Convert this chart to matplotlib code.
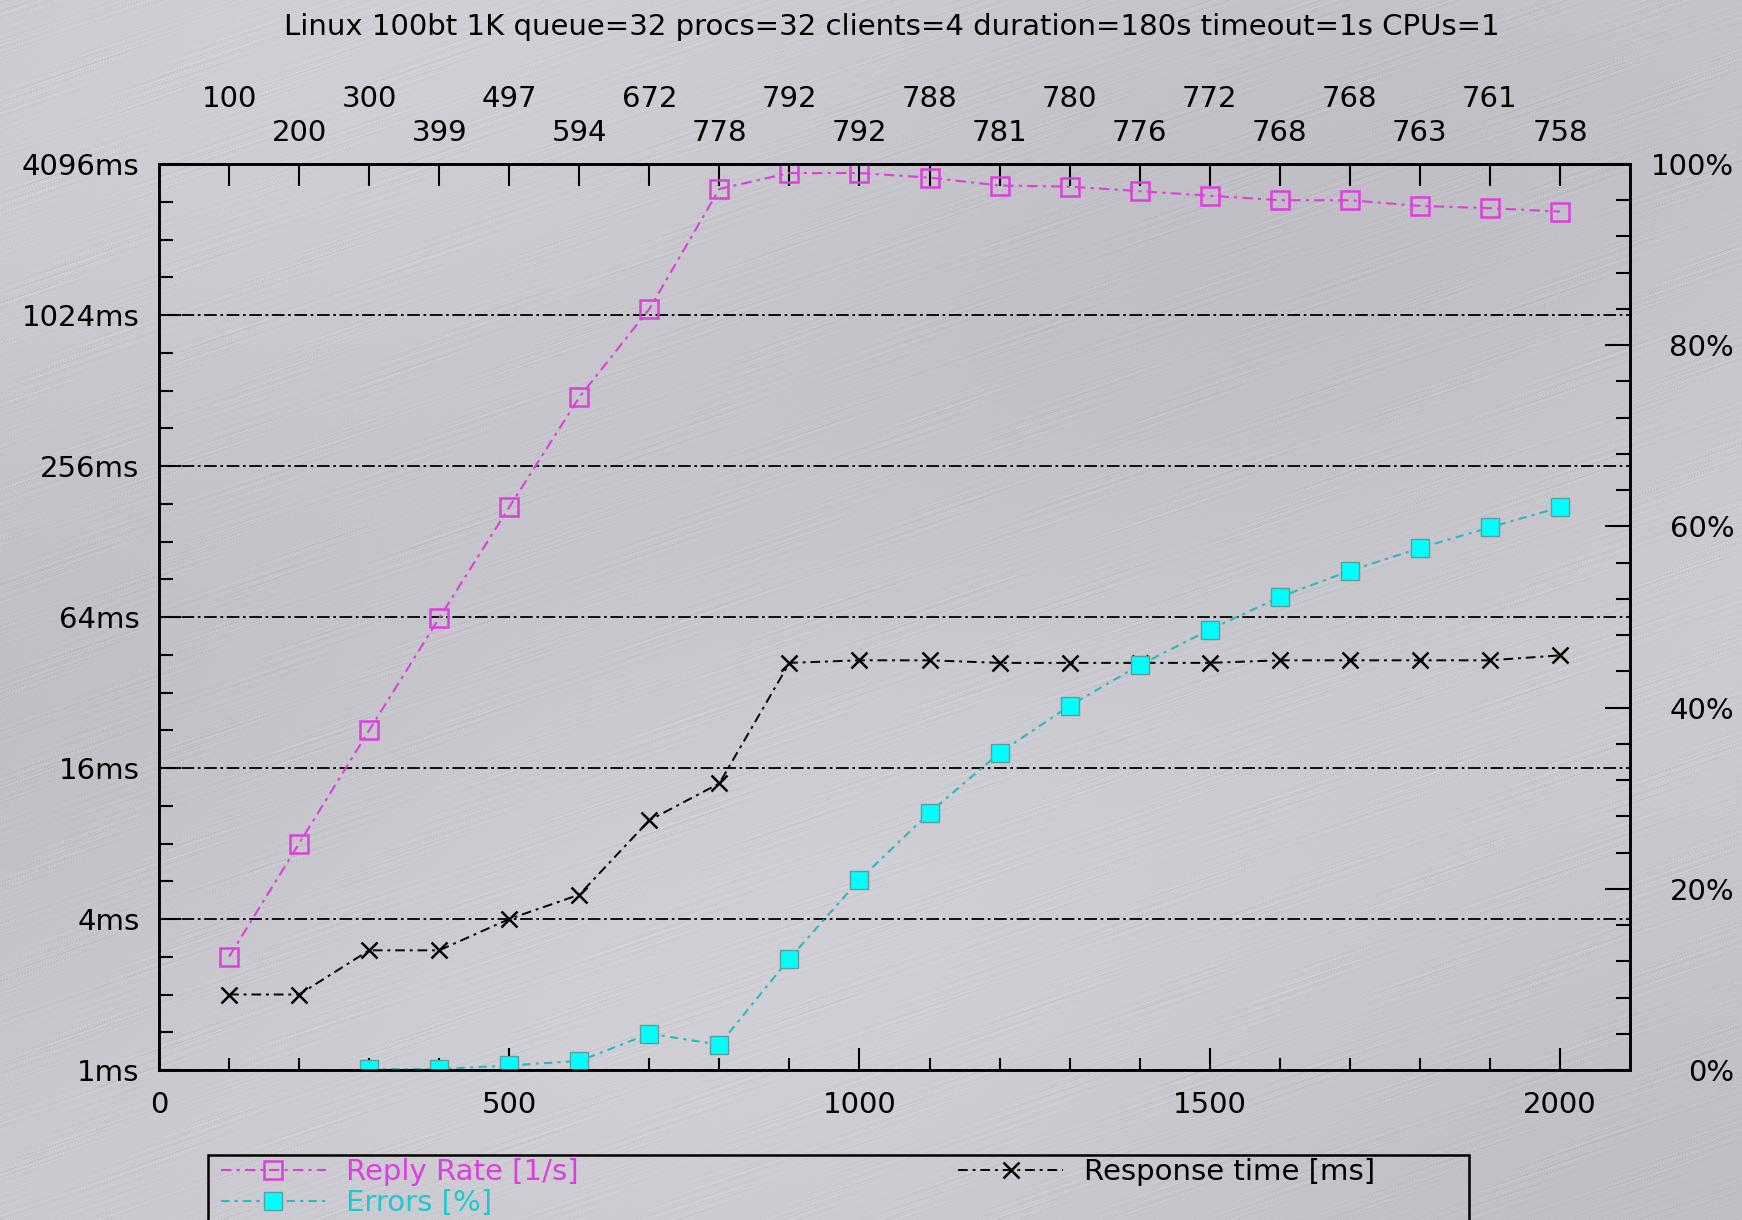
import numpy as np
import matplotlib
matplotlib.use('Agg')
import matplotlib.pyplot as plt
from matplotlib.patches import Rectangle
from matplotlib.ticker import FixedLocator, NullFormatter

FIG_W = 1742
FIG_H = 1220
DPI = 100
FONT_SIZE = 21
OUTPUT_PATH = 'out.png'

TITLE = 'Linux 100bt 1K queue=32 procs=32 clients=4 duration=180s timeout=1s CPUs=1'

# requested connection rate per step (x axis)
loads = [100, 200, 300, 400, 500, 600, 700, 800, 900, 1000,
         1100, 1200, 1300, 1400, 1500, 1600, 1700, 1800, 1900, 2000]
# achieved reply rate [1/s], also printed on the top axis
reply_rate = [100, 200, 300, 399, 497, 594, 672, 778, 792, 792,
              788, 781, 780, 776, 772, 768, 768, 763, 761, 758]
# response time [ms]
response_ms = [2.0, 2.0, 3.0, 3.0, 4.0, 5.0, 9.9, 13.9, 42, 43,
               43, 42, 42, 42, 42, 43, 43, 43, 43, 45]
# errors [%], first two steps have no errors logged
error_loads = [300, 400, 500, 600, 700, 800, 900, 1000, 1100, 1200,
               1300, 1400, 1500, 1600, 1700, 1800, 1900, 2000]
errors_pct = [0.1, 0.1, 0.5, 1.0, 4.0, 2.8, 12.3, 21.0, 28.4, 35.0,
              40.2, 44.7, 48.6, 52.2, 55.1, 57.6, 59.9, 62.1]

RATE_FULL_SCALE = 800  # reply rate that maps to 100% on the right axis

MAGENTA = '#dd3edd'
CYAN_FILL = '#00ffff'
CYAN_LINE = '#2cb8c0'


def brushed_metal(h: int, w: int) -> np.ndarray:
    # deterministic streak texture, lines rising to the right
    yy, xx = np.mgrid[0:h, 0:w].astype(float)
    ang = np.deg2rad(19)
    u = xx * np.sin(ang) + yy * np.cos(ang)
    v = xx * np.cos(ang) - yy * np.sin(ang)
    tex = np.zeros((h, w))
    for k in range(1, 48):
        f = 0.6 + 0.211 * k + 0.08 * np.sin(k * 2.3)
        phi = (k * k * 1.618) % (2 * np.pi)
        wob = 1.4 * np.sin(v * (0.006 + 0.0017 * k) + k * 0.7)
        tex += np.sin(f * u + phi + wob) / (k ** 0.2)
    tex = tex / np.percentile(np.abs(tex), 99)
    gate = np.clip(0.5 + 0.7 * np.sin(v * 0.021 + u * 0.11) * np.sin(v * 0.0087 - u * 0.031 + 1.0), 0.15, 1.0)
    tex = tex * gate
    broad = 0.02 * np.sin(u * 0.006 + 0.8) + 0.012 * np.sin(v * 0.004)
    gray = 0.785 + 0.055 * tex + broad
    rgb = np.stack([gray, gray - 0.004, gray + 0.02], axis=-1)
    return np.clip(rgb, 0, 1)


def main() -> None:
    plt.rcParams['font.family'] = ['DejaVu Sans']
    plt.rcParams['font.size'] = FONT_SIZE

    fig = plt.figure(figsize=(FIG_W / DPI, FIG_H / DPI), dpi=DPI)

    bg = fig.add_axes([0, 0, 1, 1], zorder=-10)
    bg.imshow(brushed_metal(FIG_H, FIG_W), aspect='auto', interpolation='bilinear')
    bg.axis('off')

    left, right, top, bottom = 159, 1630, 164, 1070
    ax = fig.add_axes([left / FIG_W, 1 - bottom / FIG_H, (right - left) / FIG_W, (bottom - top) / FIG_H])
    ax.set_facecolor('none')
    ax2 = ax.twinx()

    # left axis: response time, log2
    ax.set_yscale('log', base=2)
    ax.set_ylim(1, 4096)
    ax.set_xlim(0, 2100)
    majors = [4 ** k for k in range(7)]
    minors = [2 ** (k / 2) for k in range(25) if k % 4 != 0]
    ax.yaxis.set_major_locator(FixedLocator(majors))
    ax.yaxis.set_minor_locator(FixedLocator(minors))
    ax.yaxis.set_minor_formatter(NullFormatter())
    ax.set_yticklabels([f'{m}ms' for m in majors])
    ax.yaxis.grid(True, which='major', color='black', linestyle=(0, (7, 2, 1.5, 2)), linewidth=1.3)

    ax.set_xticks([0, 500, 1000, 1500, 2000])
    ax.set_xticks(loads, minor=True)
    ax.tick_params(axis='x', which='major', direction='in', length=16, width=1.5, pad=15, bottom=True, top=False)
    ax.tick_params(axis='x', which='minor', direction='in', length=9, width=1.5, bottom=True, top=False)
    ax.tick_params(axis='y', which='major', direction='in', length=16, width=1.5, pad=14)
    ax.tick_params(axis='y', which='minor', direction='in', length=10, width=1.5)

    # right axis: percent
    ax2.set_ylim(0, 100)
    ax2.set_yticks(range(0, 101, 20))
    ax2.set_yticks(range(0, 101, 4), minor=True)
    ax2.set_yticklabels([f'{p}%' for p in range(0, 101, 20)])
    ax2.tick_params(axis='y', which='major', direction='in', length=18, width=1.5, pad=75)
    ax2.tick_params(axis='y', which='minor', direction='in', length=10, width=1.5)
    for lab in ax2.get_yticklabels():
        lab.set_horizontalalignment('right')

    # top axis: reply rate labels on two staggered rows
    top_ax = ax.secondary_xaxis('top')
    top_ax.set_xticks(loads)
    top_ax.set_xticklabels([f'{r}\n ' if i % 2 == 0 else f'{r}' for i, r in enumerate(reply_rate)],
                           linespacing=1.3)
    top_ax.tick_params(axis='x', direction='in', length=16, width=1.5, pad=12)

    for a in (ax, ax2, top_ax):
        for s in a.spines.values():
            s.set_linewidth(1.8)

    resp_line, = ax.plot(loads, response_ms, color='black', linestyle=(0, (5, 2.5, 1.5, 2.5)), linewidth=1.4,
                         marker='x', markersize=11, markeredgewidth=1.8, label='Response time [ms]')

    reply_pct = [r * 100 / RATE_FULL_SCALE for r in reply_rate]
    reply_line, = ax2.plot(loads, reply_pct, color=MAGENTA, linestyle=(0, (5, 2.5, 1.5, 2.5)), linewidth=1.5,
                           marker='s', markersize=13, markerfacecolor='none', markeredgecolor=MAGENTA,
                           markeredgewidth=1.8, label='Reply Rate [1/s]')
    err_line, = ax2.plot(error_loads, errors_pct, color=CYAN_LINE, linestyle=(0, (4, 2.5, 1.5, 2.5)), linewidth=1.5,
                         marker='s', markersize=13, markerfacecolor=CYAN_FILL, markeredgecolor='#5a9ea0',
                         markeredgewidth=1.0, label='Errors [%]')

    fig.text(892 / FIG_W, 1 - 27 / FIG_H, TITLE, ha='center', va='center', fontsize=FONT_SIZE)

    # legend box runs off the bottom edge like the original
    fig.add_artist(Rectangle((208 / FIG_W, -0.05), (1469 - 208) / FIG_W, 0.05 + 1 - 1155 / FIG_H,
                             transform=fig.transFigure, fill=False, edgecolor='black', linewidth=1.8))
    leg = fig.legend(handles=[reply_line, err_line, resp_line], ncol=2, loc='upper left',
                     bbox_to_anchor=(218 / FIG_W, 1 - 1155 / FIG_H), frameon=False,
                     handlelength=3.6, handletextpad=0.7, columnspacing=13.0,
                     labelspacing=0.1, borderpad=0.1, borderaxespad=0, fontsize=FONT_SIZE)
    for text, col in zip(leg.get_texts(), [MAGENTA, '#1ec8d0', 'black']):
        text.set_color(col)

    fig.savefig(OUTPUT_PATH, dpi=DPI)
    plt.close(fig)


if __name__ == '__main__':
    main()
